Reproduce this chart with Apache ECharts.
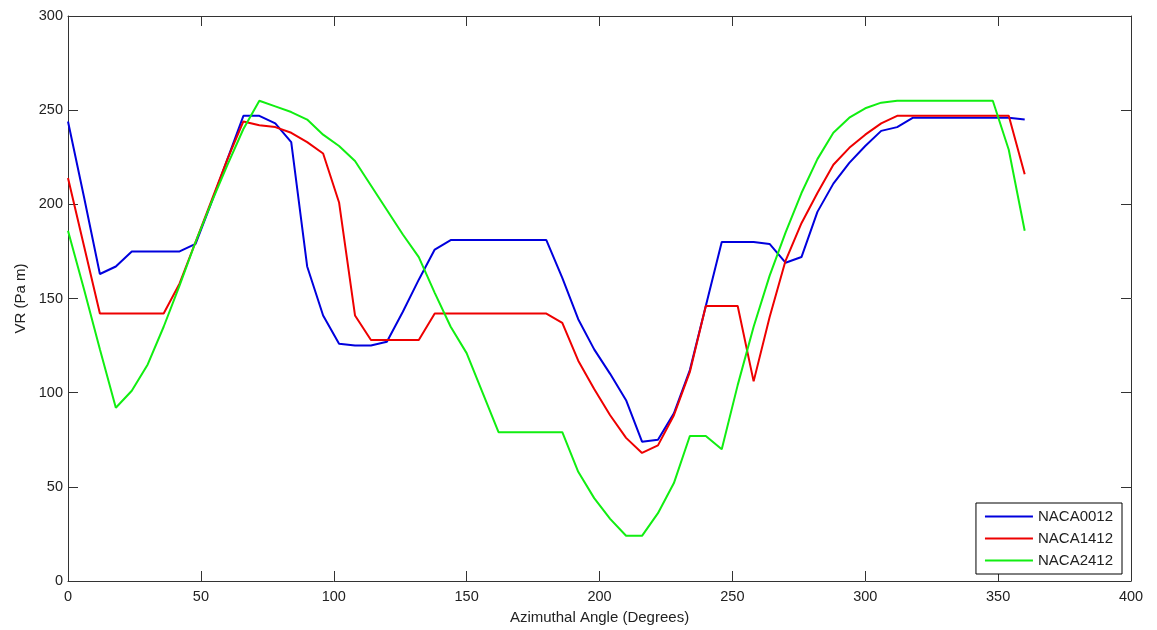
<!DOCTYPE html>
<html>
<head>
<meta charset="utf-8">
<script src="https://cdn.jsdelivr.net/npm/echarts@6/dist/echarts.min.js"></script>
<style>
  html, body { margin: 0; padding: 0; background: #fff; }
  #chart { width: 1157px; height: 630px; }
</style>
</head>
<body>
<div id="chart"></div>
<script>
// azimuthal angle, every 6 degrees
var angles = [0, 6, 12, 18, 24, 30, 36, 42, 48, 54, 60, 66, 72, 78, 84, 90, 96, 102, 108, 114, 120,
  126, 132, 138, 144, 150, 156, 162, 168, 174, 180, 186, 192, 198, 204, 210, 216, 222, 228, 234, 240,
  246, 252, 258, 264, 270, 276, 282, 288, 294, 300, 306, 312, 318, 324, 330, 336, 342, 348, 354, 360];

var naca0012 = [244, 204, 163, 167, 175, 175, 175, 175, 179, 201, 224, 247, 247, 243, 233, 167, 141, 126, 125, 125, 127,
  143, 160, 176, 181, 181, 181, 181, 181, 181, 181, 161, 139, 123, 110, 96, 74, 75, 89, 112, 146,
  180, 180, 180, 179, 169, 172, 196, 211, 222, 231, 239, 241, 246, 246, 246, 246, 246, 246, 246, 245];

var naca1412 = [214, 178, 142, 142, 142, 142, 142, 158, 180, 202, 224, 244, 242, 241, 238, 233, 227, 201, 141, 128, 128,
  128, 128, 142, 142, 142, 142, 142, 142, 142, 142, 137, 117, 102, 88, 76, 68, 72, 88, 111, 146,
  146, 146, 106, 140, 170, 190, 206, 221, 230, 237, 243, 247, 247, 247, 247, 247, 247, 247, 247, 216];

var naca2412 = [186, 155, 123, 92, 101, 115, 135, 157, 180, 201, 221, 240, 255, 252, 249, 245, 237, 231, 223, 210, 197,
  184, 172, 153, 135, 121, 100, 79, 79, 79, 79, 79, 58, 44, 33, 24, 24, 36, 52, 77, 77,
  70, 104, 135, 162, 185, 206, 224, 238, 246, 251, 254, 255, 255, 255, 255, 255, 255, 255, 229, 186];

var names = ['NACA0012', 'NACA1412', 'NACA2412'];
var colors = ['#0000dd', '#ee0000', '#11ee11'];

function pairs(vals) {
  return angles.map(function (a, i) { return [a, vals[i]]; });
}

var chart = echarts.init(document.getElementById('chart'));
var font = "'Liberation Sans', Arial, sans-serif";
var axisCol = '#333';
var txtCol = '#222';

// the box: bottom/left axes with labels, top/right ones only for the frame and ticks
function xAx(pos, labels) {
  return {
    type: 'value', min: 0, max: 400, interval: 50, position: pos,
    axisLine: { show: true, onZero: false, lineStyle: { color: axisCol, width: 1 } },
    axisTick: { show: true, inside: true, length: 10, lineStyle: { color: axisCol } },
    axisLabel: { show: labels, margin: 8, fontSize: 14.5, color: txtCol },
    splitLine: { show: false }
  };
}
function yAx(pos, labels) {
  return {
    type: 'value', min: 0, max: 300, interval: 50, position: pos,
    axisLine: { show: true, onZero: false, lineStyle: { color: axisCol, width: 1 } },
    axisTick: { show: true, inside: true, length: 10, lineStyle: { color: axisCol } },
    axisLabel: { show: labels, margin: 5, fontSize: 14.5, color: txtCol },
    splitLine: { show: false }
  };
}

var xBottom = xAx('bottom', true);
xBottom.name = 'Azimuthal Angle (Degrees)';
xBottom.nameLocation = 'middle';
xBottom.nameGap = 29;
xBottom.nameTextStyle = { fontSize: 15, color: txtCol };

var yLeft = yAx('left', true);
yLeft.name = 'VR (Pa m)';
yLeft.nameLocation = 'middle';
yLeft.nameGap = 37;
yLeft.nameRotate = 90;
yLeft.nameTextStyle = { fontSize: 15, color: txtCol };

var option = {
  backgroundColor: '#fff',
  animation: false,
  textStyle: { fontFamily: font },
  grid: { left: 68, right: 26, top: 16, bottom: 48, containLabel: false },
  legend: {
    data: names,
    orient: 'vertical',
    right: 35,
    bottom: 56,
    icon: 'rect',
    itemWidth: 48,
    itemHeight: 2,
    itemGap: 7,
    padding: [6, 9, 6, 9],
    backgroundColor: '#fff',
    borderColor: '#000',
    borderWidth: 1,
    borderRadius: 0,
    textStyle: { fontFamily: font, fontSize: 15, color: txtCol }
  },
  xAxis: [xBottom, xAx('top', false)],
  yAxis: [yLeft, yAx('right', false)],
  series: [
    { name: names[0], type: 'line', data: pairs(naca0012) },
    { name: names[1], type: 'line', data: pairs(naca1412) },
    { name: names[2], type: 'line', data: pairs(naca2412) }
  ].map(function (s, i) {
    s.xAxisIndex = 0;
    s.yAxisIndex = 0;
    s.symbol = 'none';
    s.color = colors[i];
    s.lineStyle = { color: colors[i], width: 2 };
    return s;
  })
};

chart.setOption(option);
</script>
</body>
</html>
